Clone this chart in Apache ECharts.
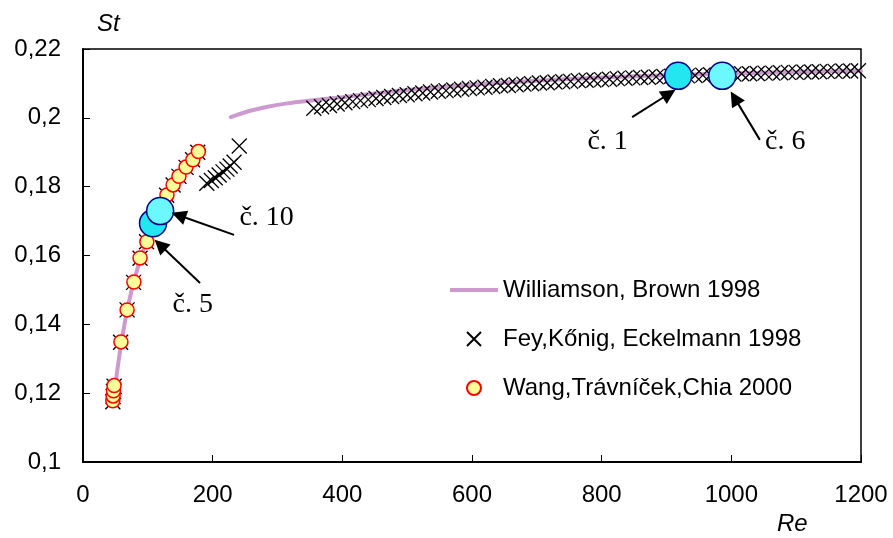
<!DOCTYPE html>
<html>
<head>
<meta charset="utf-8">
<script src="https://cdn.jsdelivr.net/npm/echarts@6/dist/echarts.min.js"></script>
<style>html,body{margin:0;padding:0;background:#fff}#c{width:893px;height:538px}</style>
</head>
<body>
<div id="c"></div>
<script>
// ---- data ----
const xTicks = [0, 200, 400, 600, 800, 1000, 1200];
const yTicks = [0.1, 0.12, 0.14, 0.16, 0.18, 0.2, 0.22];

const williamsonRe = [46, 50, 55, 60, 65, 70, 80, 90, 100, 110, 120, 135, 150, 165, 180, null,
  228, 255, 285, 315, 345, 400, 450, 500, 600, 700, 800, 900, 1000, 1100, 1200];
const williamsonSt = [0.1165, 0.1225, 0.1295, 0.1355, 0.1410, 0.1458, 0.1535, 0.1598, 0.1650, 0.1695, 0.1735, 0.1785, 0.1832, 0.1870, 0.1905, null,
  0.2002, 0.2019, 0.2032, 0.2042, 0.2049, 0.2060, 0.2071, 0.2081, 0.2096, 0.2108, 0.2117, 0.2124, 0.2129, 0.2133, 0.2137];

const feyRe = [46, 46.5, 47, 48, 58, 68, 78, 88, 98, 108, 118, 129, 139, 148, 159, 169, 177,
  191, 198, 204, 210, 216, 222, 227, 233, 241,
  356, 368, 380, 392, 404, 416, 428, 440, 452, 464, 476, 488, 500, 512, 524, 536, 548, 560, 572, 584,
  596, 608, 620, 632, 644, 656, 668, 680, 692, 704, 716, 728, 740, 752, 764, 776, 788, 800, 812, 824,
  836, 848, 860, 872, 884, 896, 908, 920, 932, 944, 956, 968, 980, 992, 1004, 1016, 1028, 1040, 1052,
  1064, 1076, 1088, 1100, 1112, 1124, 1136, 1148, 1160, 1172, 1184, 1196];
const feySt = [0.1175, 0.1190, 0.1205, 0.1220, 0.1348, 0.1442, 0.1522, 0.1592, 0.1640, 0.1695, 0.1735, 0.1775, 0.1805, 0.1830, 0.1856, 0.1878, 0.1900,
  0.1810, 0.1818, 0.1826, 0.1834, 0.1843, 0.1851, 0.1860, 0.1871, 0.1918,
  0.2028, 0.2032, 0.2036, 0.2040, 0.2044, 0.2047, 0.2050, 0.2053, 0.2056, 0.2059, 0.2062, 0.2065, 0.2067, 0.2070, 0.2072, 0.2075, 0.2077, 0.2079, 0.2081, 0.2083,
  0.2085, 0.2087, 0.2089, 0.2091, 0.2093, 0.2094, 0.2096, 0.2098, 0.2099, 0.2101, 0.2102, 0.2104, 0.2105, 0.2106, 0.2108, 0.2109, 0.2110, 0.2111, 0.2112, 0.2114,
  0.2115, 0.2116, 0.2117, 0.2118, 0.2119, 0.2120, 0.2121, 0.2121, 0.2122, 0.2123, 0.2124, 0.2125, 0.2125, 0.2126, 0.2127, 0.2128, 0.2128, 0.2129, 0.2130,
  0.2130, 0.2131, 0.2132, 0.2132, 0.2133, 0.2133, 0.2134, 0.2135, 0.2135, 0.2136, 0.2136, 0.2137];

const wangRe = [46, 46.5, 47, 48, 58.5, 68, 78.5, 88, 98.5, 109, 119, 129.5, 139, 148, 159, 169.5, 178];
const wangSt = [0.1178, 0.1192, 0.1207, 0.1222, 0.1349, 0.1442, 0.1523, 0.1593, 0.1640, 0.1690, 0.1732, 0.1776, 0.1805, 0.1830, 0.1857, 0.1878, 0.1902];

// highlighted cases (č. 5, č. 10, č. 1, č. 6)
const caseNames = ['č. 5', 'č. 10', 'č. 1', 'č. 6'];
const caseRe = [108, 119, 918, 986];
const caseSt = [0.1694, 0.1729, 0.2122, 0.2122];

// annotation label anchors and arrows (data coordinates)
const labelText = ['č. 1', 'č. 6', 'č. 10', 'č. 5'];
const labelRe = [810, 1084, 284, 170];
const labelSt = [0.1930, 0.1930, 0.1709, 0.1456];
const arrowFromRe = [847, 1044, 233, 180.5];
const arrowFromSt = [0.2002, 0.1936, 0.1660, 0.1520];
const arrowToRe = [904, 1005, 147.5, 118.8];
const arrowToSt = [0.2070, 0.2058, 0.1717, 0.1631];

// ---- chart ----
const zip = (a, b) => a.map((v, i) => (v === null ? ['-', '-'] : [v, b[i]]));
const fmtY = v => String(+(+v).toFixed(2)).replace('.', ',');
const fmtX = v => String(Math.round(v));
const sans = 'Liberation Sans, Arial, sans-serif';
const serif = 'Liberation Serif, Times New Roman, serif';
const crossPath = 'path://M0,0L10,10M0,10L10,0';
const lav = '#CC9ACF';

const chart = echarts.init(document.getElementById('c'), null, {renderer: 'canvas'});
chart.setOption({
  animation: false,
  backgroundColor: '#fff',
  grid: {left: 83, right: 32, top: 49, bottom: 76, show: true, borderColor: '#000', borderWidth: 1.5, backgroundColor: 'transparent'},
  xAxis: {
    type: 'value', min: xTicks[0], max: xTicks[xTicks.length - 1], interval: 200,
    axisLine: {show: true, lineStyle: {color: '#000', width: 2}},
    axisTick: {show: true, inside: true, length: 7, lineStyle: {color: '#000', width: 1}},
    axisLabel: {color: '#000', fontSize: 24, fontFamily: sans, margin: 21, formatter: fmtX},
    splitLine: {show: false}
  },
  yAxis: {
    type: 'value', min: yTicks[0], max: yTicks[yTicks.length - 1], interval: 0.02,
    axisLine: {show: true, lineStyle: {color: '#000', width: 2}},
    axisTick: {show: true, inside: true, length: 7, lineStyle: {color: '#000', width: 1}},
    axisLabel: {color: '#000', fontSize: 24, fontFamily: sans, margin: 22, formatter: fmtY},
    splitLine: {show: false}
  },
  legend: {
    orient: 'vertical', left: 450, top: 278, padding: 0, itemGap: 25, itemWidth: 48, itemHeight: 14,
    textStyle: {color: '#000', fontSize: 24, fontFamily: sans},
    selectedMode: false,
    data: [
      {name: 'Williamson, Brown 1998', icon: 'path://M0,0L48,0L48,4L0,4Z', itemStyle: {color: lav, borderWidth: 0}},
      {name: 'Fey,Kőnig, Eckelmann 1998'},
      {name: 'Wang,Trávníček,Chia 2000'}
    ]
  },
  graphic: [
    {type: 'text', left: 97, top: 12, style: {text: 'St', font: 'italic 24px Liberation Sans', fill: '#000'}},
    {type: 'text', left: 777, top: 512, style: {text: 'Re', font: 'italic 24px Liberation Sans', fill: '#000'}}
  ],
  series: [
    {
      name: 'Williamson, Brown 1998', type: 'line', data: zip(williamsonRe, williamsonSt),
      symbol: 'none', showSymbol: false, smooth: 0.3, connectNulls: false, z: 1,
      lineStyle: {color: lav, width: 4, cap: 'round'},
      itemStyle: {color: lav}
    },
    {
      name: 'Fey,Kőnig, Eckelmann 1998', type: 'scatter', data: zip(feyRe, feySt),
      symbol: crossPath, symbolSize: 15, z: 2,
      itemStyle: {color: 'none', borderColor: '#000', borderWidth: 1.3, opacity: 1}
    },
    {
      name: 'Wang,Trávníček,Chia 2000', type: 'scatter', data: zip(wangRe, wangSt),
      symbol: 'circle', symbolSize: 14, z: 3,
      itemStyle: {color: '#FFFF99', borderColor: '#FF0000', borderWidth: 1.5, opacity: 1}
    },
    {
      name: 'cases', type: 'scatter', z: 4, symbol: 'circle', symbolSize: 27, silent: true,
      data: caseNames.map((n, i) => ({
        name: n, value: [caseRe[i], caseSt[i]],
        itemStyle: {color: (n === 'č. 5' || n === 'č. 1') ? '#22E6F0' : '#6CF8FF'}
      })),
      itemStyle: {borderColor: '#000080', borderWidth: 1.5, opacity: 1}
    },
    {
      name: 'annotations', type: 'scatter', z: 5, symbolSize: 1, silent: true,
      itemStyle: {color: 'rgba(0,0,0,0)'},
      label: {show: true, position: [0, 0], align: 'center', verticalAlign: 'middle',
        formatter: p => p.name, color: '#000', opacity: 1, textBorderWidth: 0, fontSize: 28, fontFamily: serif},
      data: labelText.map((t, i) => ({name: t, value: [labelRe[i], labelSt[i]]})),
      markLine: {
        silent: true, symbol: ['none', 'triangle'], symbolSize: 15, animation: false,
        lineStyle: {color: '#000', width: 2, type: 'solid', opacity: 1},
        itemStyle: {color: '#000'},
        label: {show: false},
        emphasis: {disabled: true},
        data: arrowFromRe.map((v, i) => [
          {coord: [v, arrowFromSt[i]]},
          {coord: [arrowToRe[i], arrowToSt[i]]}
        ])
      }
    }
  ]
});
</script>
</body>
</html>
